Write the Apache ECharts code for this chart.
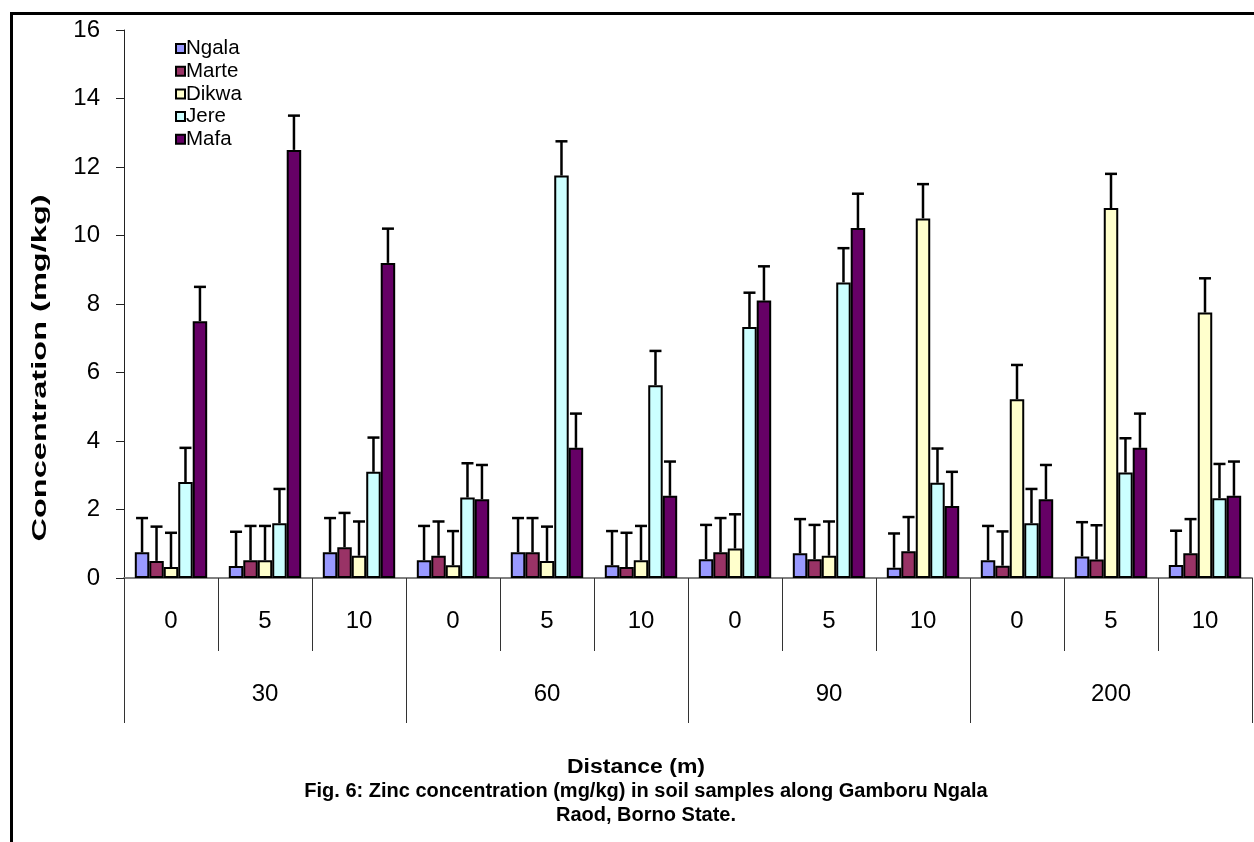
<!DOCTYPE html>
<html>
<head>
<meta charset="utf-8">
<script src="https://cdn.jsdelivr.net/npm/echarts@6/dist/echarts.min.js"></script>
<style>
html,body{margin:0;padding:0;background:#fff;}
#chart{width:1254px;height:842px;}
</style>
</head>
<body>
<div id="chart"></div>
<script>
const subLabels = ['0','5','10','0','5','10','0','5','10','0','5','10'];
const groupLabels = ['30','60','90','200'];
const seriesNames = ['Ngala','Marte','Dikwa','Jere','Mafa'];
const colors = ['#9999FF','#993366','#FFFFCC','#CCFFFF','#660066'];

const ngala = [0.75,0.35,0.75, 0.52,0.75,0.37, 0.55,0.72,0.3, 0.52,0.63,0.38];
const marte = [0.5,0.52,0.9, 0.65,0.75,0.32, 0.75,0.55,0.78, 0.36,0.54,0.72];
const dikwa = [0.32,0.52,0.65, 0.37,0.5,0.52, 0.86,0.65,10.5, 5.22,10.8,7.75];
const jere  = [2.8,1.6,3.1, 2.35,11.75,5.63, 7.33,8.63,2.78, 1.6,3.08,2.33];
const mafa  = [7.5,12.5,9.2, 2.3,3.8,2.4, 8.1,10.22,2.1, 2.3,3.8,2.4];

const errNgala = [1,1,1,1,1,1,1,1,1,1,1,1];
const errMarte = [1,1,1,1,1,1,1,1,1,1,1,1];
const errDikwa = [1,1,1,1,1,1,1,1,1,1,1,1];
const errJere  = [1,1,1,1,1,1,1,1,1,1,1,1];
const errMafa  = [1,1,1,1,1,1,1,1,1,1,1,1];

const values = [ngala, marte, dikwa, jere, mafa];
const errors = [errNgala, errMarte, errDikwa, errJere, errMafa];

const FONT = 'Liberation Sans, Arial, sans-serif';
const GAP = 0.23;

const chart = echarts.init(document.getElementById('chart'), null, {renderer:'canvas'});

const barSeries = values.map((vals, i) => ({
  name: seriesNames[i],
  type: 'bar',
  xAxisIndex: 0,
  data: vals,
  barGap: '0%',
  barCategoryGap: (GAP*100) + '%',
  itemStyle: {color: colors[i], borderColor: '#000', borderWidth: 2},
  emphasis: {disabled: true},
  z: 2
}));

const errSeries = values.map((vals, i) => ({
  name: 'err_' + seriesNames[i],
  type: 'custom',
  xAxisIndex: 0,
  data: vals.map((v, k) => [k, v, errors[i][k]]),
  encode: {x: 0, y: 1},
  z: 3,
  silent: true,
  renderItem: function (params, api) {
    const ci = api.value(0), v = api.value(1), e = api.value(2);
    const p0 = api.coord([ci, v]);
    const p1 = api.coord([ci, v + e]);
    const band = api.size([1, 0])[0];
    const bw = band * (1 - GAP) / 5;
    const x = p0[0] + (i - 2) * bw;
    const style = {stroke: '#000', lineWidth: 2.5};
    return {
      type: 'group',
      children: [
        {type: 'line', shape: {x1: x, y1: p0[1], x2: x, y2: p1[1]}, style: style},
        {type: 'line', shape: {x1: x - 6, y1: p1[1], x2: x + 6, y2: p1[1]}, style: style}
      ]
    };
  }
}));

const option = {
  backgroundColor: '#fff',
  animation: false,
  textStyle: {fontFamily: FONT},
  grid: {left: 124, right: 2, top: 30, bottom: 264, containLabel: false},
  legend: {
    data: seriesNames,
    orient: 'vertical',
    left: 170,
    top: 33,
    itemWidth: 9,
    itemHeight: 9,
    itemGap: 1.7,
    icon: 'rect',
    itemStyle: {borderColor: '#000', borderWidth: 2},
    textStyle: {fontFamily: FONT, fontSize: 20.5, lineHeight: 21, color: '#000', padding: [0,0,0,-4]},
    selectedMode: false
  },
  xAxis: [
    {
      type: 'category',
      data: subLabels,
      position: 'bottom',
      axisLine: {show: true, lineStyle: {color: '#808080', width: 2}},
      axisTick: {show: true, interval: 0, length: 73, lineStyle: {color: '#333', width: 1}},
      axisLabel: {interval: 0, margin: 31, fontSize: 24, color: '#000', fontFamily: FONT},
      splitLine: {show: false}
    },
    {
      type: 'category',
      data: groupLabels,
      position: 'bottom',
      axisLine: {show: false},
      axisTick: {show: true, interval: 0, length: 145, lineStyle: {color: '#333', width: 1}},
      axisLabel: {interval: 0, margin: 104, fontSize: 24, color: '#000', fontFamily: FONT},
      splitLine: {show: false}
    }
  ],
  yAxis: {
    type: 'value',
    min: 0, max: 16, interval: 2,
    axisLine: {show: true, lineStyle: {color: '#222', width: 1}},
    axisTick: {show: true, length: 8, lineStyle: {color: '#222', width: 1}},
    axisLabel: {margin: 24, fontSize: 24, color: '#000', fontFamily: FONT},
    splitLine: {show: false}
  },
  graphic: [
    {type: 'rect', left: 9, top: 11, shape: {x: 0, y: 0, width: 1400, height: 1000},
     style: {fill: 'none', stroke: '#000', lineWidth: 3}, silent: true, z: 0},
    {type: 'text', x: 40, y: 368, rotation: Math.PI/2, scaleX: 1.55,
     style: {text: 'Concentration (mg/kg)', font: 'bold 21px ' + FONT, fill: '#000', textAlign: 'center', textVerticalAlign: 'middle'}},
    {type: 'text', x: 636, y: 767, scaleX: 1.15,
     style: {text: 'Distance (m)', font: 'bold 20px ' + FONT, fill: '#000', textAlign: 'center', textVerticalAlign: 'middle'}},
    {type: 'text', x: 646, y: 791,
     style: {text: 'Fig. 6: Zinc concentration (mg/kg) in soil samples along Gamboru Ngala', font: 'bold 20px ' + FONT, fill: '#000', textAlign: 'center', textVerticalAlign: 'middle'}},
    {type: 'text', x: 646, y: 815,
     style: {text: 'Raod, Borno State.', font: 'bold 20px ' + FONT, fill: '#000', textAlign: 'center', textVerticalAlign: 'middle'}}
  ],
  series: barSeries.concat(errSeries)
};
chart.setOption(option);
</script>
</body>
</html>
